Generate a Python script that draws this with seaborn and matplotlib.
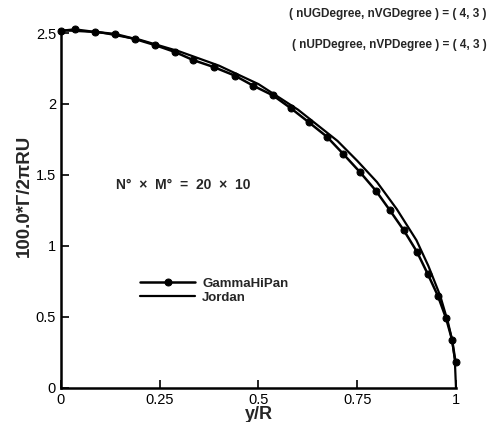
import numpy as np
import pandas as pd
import matplotlib
matplotlib.use("Agg")
import matplotlib.pyplot as plt
import seaborn as sns

# GammaHiPan points
gamma_x = [0.0, 0.035, 0.086, 0.137, 0.187, 0.238, 0.289, 0.334, 0.387, 0.44, 0.486,
           0.537, 0.582, 0.628, 0.673, 0.714, 0.757, 0.797, 0.833, 0.868, 0.901,
           0.929, 0.954, 0.975, 0.990, 0.999]
gamma_y = [2.515, 2.525, 2.507, 2.493, 2.458, 2.415, 2.366, 2.31, 2.26, 2.20, 2.13,
           2.06, 1.97, 1.87, 1.77, 1.65, 1.52, 1.39, 1.25, 1.11, 0.96,
           0.80, 0.65, 0.49, 0.34, 0.18]

# Jordan curve
jordan_x = [0.0, 0.1, 0.2, 0.3, 0.4, 0.5, 0.6, 0.7, 0.75, 0.8, 0.85, 0.9,
            0.93, 0.96, 0.98, 0.99, 0.997, 1.0]
jordan_y = [2.52, 2.505, 2.452, 2.37, 2.27, 2.14, 1.96, 1.74, 1.60, 1.45, 1.26, 1.04,
            0.86, 0.65, 0.46, 0.34, 0.2, 0.0]

x_ticks = [0, 0.25, 0.5, 0.75, 1]
x_tick_labels = ["0", "0.25", "0.5", "0.75", "1"]
y_ticks = [0, 0.5, 1, 1.5, 2, 2.5]
y_tick_labels = ["0", "0.5", "1", "1.5", "2", "2.5"]

sns.set_style("ticks")
plt.rcParams['font.family'] = ['Liberation Sans', 'DejaVu Sans']

fig = plt.figure(figsize=(4.89, 4.22), dpi=100)
ax = fig.add_axes([0.1247, 0.0806, 0.8078, 0.8412])

gamma = pd.DataFrame({"x": gamma_x, "y": gamma_y})
jordan = pd.DataFrame({"x": jordan_x, "y": jordan_y})

sns.lineplot(data=gamma, x="x", y="y", sort=False, color="black", linewidth=1.8,
             marker="o", markersize=5, markeredgecolor="black", label="GammaHiPan",
             ax=ax, clip_on=False)
sns.lineplot(data=jordan, x="x", y="y", sort=False, color="black", linewidth=1.6,
             label="Jordan", ax=ax, clip_on=False)

ax.set_xlim(0, 1)
ax.set_ylim(0, 2.5)
ax.set_xticks(x_ticks)
ax.set_xticklabels(x_tick_labels)
ax.set_yticks(y_ticks)
ax.set_yticklabels(y_tick_labels)
ax.tick_params(direction="in", length=6, width=1.2, labelsize=10.5, colors="black")
sns.despine(ax=ax)
for s in ["left", "bottom"]:
    ax.spines[s].set_linewidth(1.8)
    ax.spines[s].set_color("black")

ax.set_xlabel("y/R", fontsize=13, fontweight="bold")
ax.xaxis.set_label_coords(0.5, -0.052)
ax.set_ylabel("100.0*Γ/2πRU", fontsize=13.5, fontweight="bold")
ax.yaxis.set_label_coords(-0.072, 0.54)

fig.text(0.995, 0.968, "( nUGDegree, nVGDegree ) = ( 4, 3 )", ha="right", va="center",
         fontsize=8.5, fontweight="bold")
fig.text(0.995, 0.893, "( nUPDegree, nVPDegree ) = ( 4, 3 )", ha="right", va="center",
         fontsize=8.5, fontweight="bold")
fig.text(0.238, 0.562, "N°  ×  M°  =  20  ×  10", ha="left", va="center",
         fontsize=10, fontweight="bold")

leg = ax.legend(loc="upper left", bbox_to_anchor=(0.17, 0.345), frameon=False,
                handlelength=4.2, handletextpad=0.5, labelspacing=0.15,
                prop={"weight": "bold", "size": 9.5})

fig.savefig("out.png", dpi=100)
